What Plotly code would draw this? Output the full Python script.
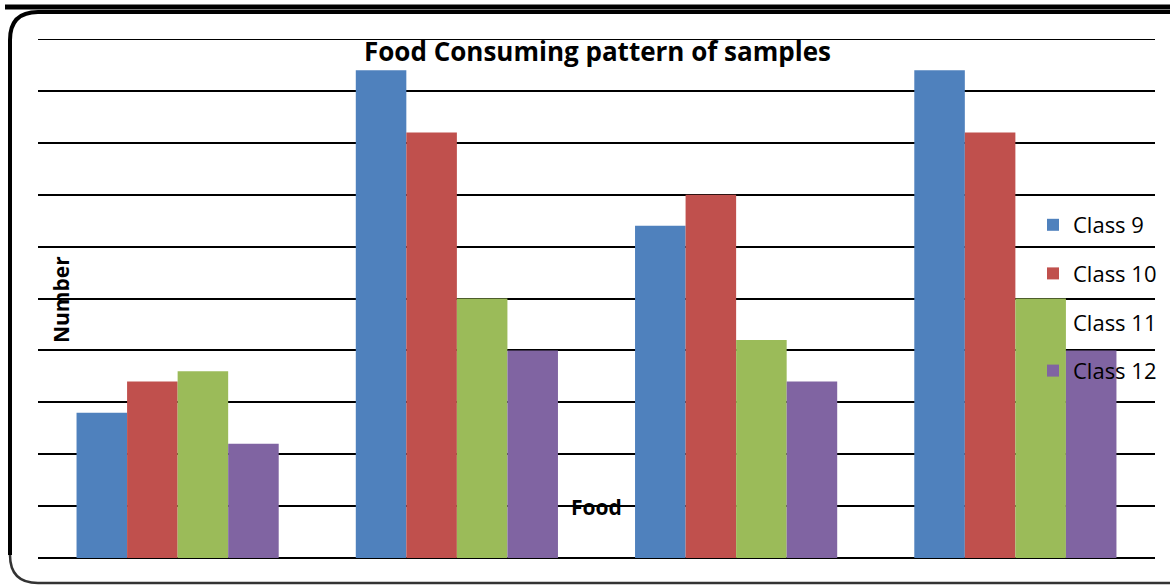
import plotly.graph_objects as go

categories = ["Food A", "Food B", "Food C", "Food D"]
class9 = [14, 47, 32, 47]
class10 = [17, 41, 35, 41]
class11 = [18, 25, 21, 25]
class12 = [11, 20, 17, 20]
series_names = ["Class 9", "Class 10", "Class 11", "Class 12"]
colors = ["#4F81BD", "#C0504D", "#9BBB59", "#8064A2"]

W, H = 1170, 586
ML, MR, MT, MB = 38, 15, 39, 28
PW = W - ML - MR
PH = H - MT - MB

def X(px):
    return (px - ML) / PW

def Y(py):
    return (H - MB - py) / PH

fig = go.Figure()
for name, vals, col in zip(series_names, [class9, class10, class11, class12], colors):
    fig.add_trace(go.Bar(x=categories, y=vals, name=name, marker_color=col,
                         marker_line_width=0, legendgroup=name))

# rounded border (left side, top, bottom; right side falls outside the picture)
L, R, T, B, r = 10, 1172, 12, 583, 28
path_lt = (f"M {X(L)},{Y(B - r)} L {X(L)},{Y(T + r)} Q {X(L)},{Y(T)} {X(L + r)},{Y(T)} "
           f"L {X(R)},{Y(T)}")
path_b = (f"M {X(L)},{Y(B - r)} Q {X(L)},{Y(B)} {X(L + r)},{Y(B)} L {X(R)},{Y(B)}")

shapes = [
    dict(type="path", xref="paper", yref="paper", path=path_lt,
         line=dict(color="black", width=4)),
    dict(type="path", xref="paper", yref="paper", path=path_b,
         line=dict(color="#333333", width=2.5)),
    dict(type="line", xref="paper", yref="paper", x0=X(5), x1=X(1172), y0=Y(7), y1=Y(7),
         line=dict(color="black", width=5)),
    dict(type="line", xref="paper", yref="y", x0=0, x1=1, y0=50, y1=50,
         layer="below", line=dict(color="black", width=2)),
]

fig.update_layout(
    width=W, height=H,
    margin=dict(l=ML, r=MR, t=MT, b=MB, autoexpand=False),
    paper_bgcolor="white", plot_bgcolor="white",
    barmode="group", bargap=0.276, bargroupgap=0,
    font=dict(family="Open Sans, Liberation Sans, sans-serif", color="black"),
    showlegend=True,
    legend=dict(x=X(1033), y=Y(204), xanchor="left", yanchor="top",
                font=dict(size=22, family="Open Sans"), traceorder="grouped",
                tracegroupgap=17, bgcolor="rgba(0,0,0,0)"),
    xaxis=dict(showticklabels=False, showgrid=False, showline=False, ticks=""),
    yaxis=dict(range=[0, 50], dtick=5, showticklabels=False, showgrid=True,
               gridcolor="black", gridwidth=2, zeroline=True, zerolinecolor="black",
               zerolinewidth=2, showline=False, ticks=""),
    shapes=shapes,
    annotations=[
        dict(text="<b>Food Consuming pattern of samples</b>", xref="paper", yref="paper",
             x=X(597), y=Y(51), xanchor="center", yanchor="middle", showarrow=False,
             font=dict(size=26, family="Open Sans")),
        dict(text="<b>Number</b>", xref="paper", yref="paper", x=X(61), y=Y(300),
             xanchor="center", yanchor="middle", showarrow=False, textangle=-90,
             font=dict(size=21, family="Open Sans")),
        dict(text="<b>Food</b>", xref="paper", yref="paper", x=X(596), y=Y(507),
             xanchor="center", yanchor="middle", showarrow=False,
             font=dict(size=21, family="Open Sans")),
    ],
)

fig.write_html("out.html")
